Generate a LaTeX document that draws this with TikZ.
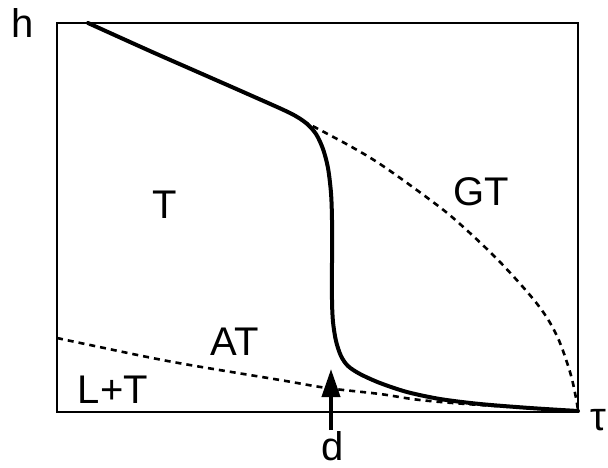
\documentclass[tikz,border=0pt]{standalone}
\usepackage{fontspec}
\setmainfont{Liberation Sans}
\usetikzlibrary{arrows.meta}
\begin{document}
\begin{tikzpicture}[x=1pt,y=-1pt,
  lbl/.style={font=\fontsize{40}{48}\selectfont, inner sep=0pt, text depth=0pt, anchor=base},
  frame/.style={line width=2.6pt},
  phase/.style={line width=4pt, line join=round, line cap=round},
  bound/.style={line width=2.6pt, dash pattern=on 6pt off 5pt}]
\useasboundingbox (0,0) rectangle (608,467);
\fill[white] (0,0) rectangle (608,467);
% frame
\draw[frame] (57,23) rectangle (578,412);
% upper dashed boundary (GT)
\draw[bound] plot[smooth, tension=0.55] coordinates {(303,121) (350,146) (383,166) (433,202) (460,224) (500,262) (538,305) (557,336) (570,372) (576,398) (578,411)};
% lower dashed boundary (AT / L+T)
\draw[bound] plot[smooth, tension=0.55] coordinates {(57,338) (90,345) (173,362) (280,380) (327,388) (380,394) (420,400) (480,405) (578,411)};
% thick phase line
\draw[phase] plot[smooth, tension=0.5] coordinates {(88,23) (150,51) (200,73) (250,95) (290,113) (306,123) (316,134) (323,149) (328,168) (331,193) (332,220) (332,260) (332,300) (333,322) (336,341) (341,356) (348,366) (360,374) (380,383) (407,392) (440,399) (480,404) (530,408) (578,411)};
% labels
\node[lbl] (h) at (23,37) {h};
\node[lbl] (T) at (165,218) {T};
\node[lbl] (GT) at (481,205) {GT};
\node[lbl] (AT) at (235,355) {AT};
\node[lbl] (LT) at (113,403) {L+T};
\node[lbl] (d) at (333,460) {d};
\node[lbl, anchor=base west] (tau) at (590,430) {τ};
% arrow to d
\coordinate (dbase) at (331,430);
\coordinate (dtip) at (331,369);
\draw[line width=4pt, -{Triangle[length=28pt,width=18pt]}] (dbase) -- (dtip);
\end{tikzpicture}
\end{document}
